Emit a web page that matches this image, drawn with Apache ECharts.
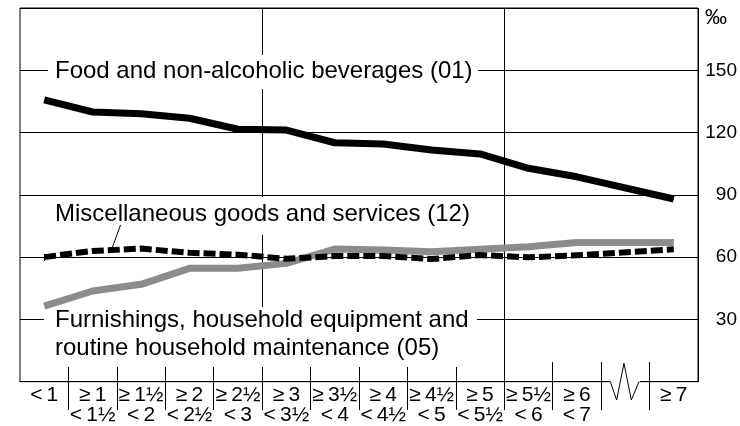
<!DOCTYPE html>
<html>
<head>
<meta charset="utf-8">
<script src="https://cdn.jsdelivr.net/npm/echarts@6/dist/echarts.min.js"></script>
<style>
html,body{margin:0;padding:0;background:#fff;}
#c{width:740px;height:426px;}
</style>
</head>
<body>
<div id="c"></div>
<script>
// ---- data ----
var T = '\u2009';
var categories = ['<' + T + '1', '≥' + T + '1\n<' + T + '1½', '≥' + T + '1½\n<' + T + '2', '≥' + T + '2\n<' + T + '2½',
  '≥' + T + '2½\n<' + T + '3', '≥' + T + '3\n<' + T + '3½', '≥' + T + '3½\n<' + T + '4', '≥' + T + '4\n<' + T + '4½',
  '≥' + T + '4½\n<' + T + '5', '≥' + T + '5\n<' + T + '5½', '≥' + T + '5½\n<' + T + '6', '≥' + T + '6\n<' + T + '7',
  '', '≥' + T + '7'];
var food = [135.7, 129.9, 129.1, 126.9, 121.6, 121.2, 115.1, 114.5, 111.6, 109.7, 102.8, 98.7, null, 88];
var misc = [60, 63, 64.1, 62.1, 61.2, 59.2, 60.5, 60.5, 59.1, 61, 59.9, 60.9, null, 63.8];
var furn = [36.4, 43.7, 46.9, 54.6, 54.6, 57, 63.9, 63.4, 62.6, 63.8, 65, 67, null, 67.1];
var seriesNames = ['Food and non-alcoholic beverages (01)', 'Miscellaneous goods and services (12)',
  'Furnishings, household equipment and\nroutine household maintenance (05)'];
var furnLines = ['Furnishings, household equipment and', 'routine household maintenance (05)'];
var unitLabel = '‰';
var yMin = 0, yMax = 180, yStep = 30;

// ---- layout ----
var FONT = '"Liberation Sans", Arial, Helvetica, sans-serif';
var GL = 20, GT = 8, GR = 698, GB = 381.7;
var slot = (GR - GL) / categories.length;
var tickCats = [];
for (var i = 0; i <= categories.length; i++) tickCats.push(String(i));

var chart = echarts.init(document.getElementById('c'), null, {renderer: 'canvas'});

var bx0 = GL + 12 * slot, bx1 = GL + 13 * slot, bm = (bx0 + bx1) / 2;

var option = {
  animation: false,
  backgroundColor: '#fff',
  grid: [
    {left: GL, top: GT, width: GR - GL, height: GB - GT, show: true, borderColor: '#000', borderWidth: 1, backgroundColor: 'transparent', outerBoundsMode: 'none', containLabel: false},
    {left: GL, top: 362, width: slot * (categories.length + 1), height: 48, show: false, outerBoundsMode: 'none'}
  ],
  xAxis: [
    {
      type: 'category', gridIndex: 0, data: categories, boundaryGap: true,
      axisLine: {show: true, lineStyle: {color: '#000', width: 1}},
      axisTick: {show: false},
      axisLabel: {interval: 0, hideOverlap: false, color: '#000', fontFamily: FONT, fontSize: 21, lineHeight: 20, margin: 4, overflow: 'none', textStyle: {fontSize: 21}},
      splitLine: {show: true, interval: function (idx) { return idx === 5 || idx === 10; }, lineStyle: {color: '#000', width: 1}}
    },
    {
      type: 'category', gridIndex: 1, data: tickCats, boundaryGap: true, position: 'bottom',
      axisLine: {show: false}, axisLabel: {show: false}, splitLine: {show: false},
      axisTick: {show: true, inside: true, length: 48, interval: function (idx) { return idx >= 1 && idx <= 13; }, lineStyle: {color: '#000', width: 1}}
    }
  ],
  yAxis: [
    {
      type: 'value', gridIndex: 0, position: 'right', min: yMin, max: yMax, interval: yStep,
      axisLine: {show: false}, axisTick: {show: false},
      splitLine: {show: true, lineStyle: {color: '#000', width: 1}},
      axisLabel: {
        color: '#000', fontFamily: FONT, fontSize: 19, align: 'right', margin: 39,
        formatter: function (v) { return (v === yMin || v === yMax) ? '' : String(v); }
      }
    },
    {type: 'value', gridIndex: 1, show: false}
  ],
  series: [
    {type: 'line', name: seriesNames[2], data: furn, xAxisIndex: 0, yAxisIndex: 0, showSymbol: false, symbol: 'none', connectNulls: true, z: 3,
      lineStyle: {color: '#8c8c8c', width: 7, cap: 'butt', join: 'round'}},
    {type: 'line', name: seriesNames[0], data: food, xAxisIndex: 0, yAxisIndex: 0, showSymbol: false, symbol: 'none', connectNulls: true, z: 4,
      lineStyle: {color: '#000', width: 7, cap: 'butt', join: 'round'}},
    {type: 'line', name: seriesNames[1], data: misc, xAxisIndex: 0, yAxisIndex: 0, showSymbol: false, symbol: 'none', connectNulls: true, z: 5,
      lineStyle: {color: '#000', width: 6, type: [12, 4], cap: 'butt', join: 'miter'}}
  ],
  graphic: [
    // unit
    {type: 'text', z: 10, left: 705, top: 7, style: {text: unitLabel, font: '22px ' + FONT, fill: '#000'}},
    // food label
    {type: 'rect', z: 1, shape: {x: 48, y: 55, width: 430, height: 34}, style: {fill: '#fff'}},
    {type: 'text', z: 10, x: 55, y: 71, style: {text: seriesNames[0], font: '24px ' + FONT, fill: '#000', verticalAlign: 'middle', align: 'left'}},
    // misc label
    {type: 'rect', z: 1, shape: {x: 48, y: 197, width: 428, height: 38}, style: {fill: '#fff'}},
    {type: 'text', z: 10, x: 55, y: 214.5, style: {text: seriesNames[1], font: '24px ' + FONT, fill: '#000', verticalAlign: 'middle', align: 'left'}},
    {type: 'line', z: 10, shape: {x1: 120.5, y1: 225, x2: 112.5, y2: 247}, style: {stroke: '#000', lineWidth: 1}},
    // furnishings label
    {type: 'rect', z: 1, shape: {x: 44, y: 307, width: 433, height: 60}, style: {fill: '#fff'}},
    {type: 'text', z: 10, x: 55, y: 320, style: {text: furnLines[0], font: '24px ' + FONT, fill: '#000', verticalAlign: 'middle', align: 'left'}},
    {type: 'text', z: 10, x: 55, y: 348, style: {text: furnLines[1], font: '24px ' + FONT, fill: '#000', verticalAlign: 'middle', align: 'left'}},
    // misc start mark
    {type: 'line', z: 10, shape: {x1: 44.5, y1: 254, x2: 44.5, y2: 261}, style: {stroke: '#000', lineWidth: 1}},
    // axis break
    {type: 'rect', z: 1, shape: {x: bm - 15, y: GB - 3, width: 29.5, height: 6}, style: {fill: '#fff'}},
    {type: 'polyline', z: 10, shape: {points: [[bm - 15, GB], [bm - 8.7, 400], [bm - 1.4, 363.3], [bm + 6, 400], [bm + 13.6, GB]]}, style: {stroke: '#000', lineWidth: 1, fill: null}}
  ]
};
chart.setOption(option);
</script>
</body>
</html>
